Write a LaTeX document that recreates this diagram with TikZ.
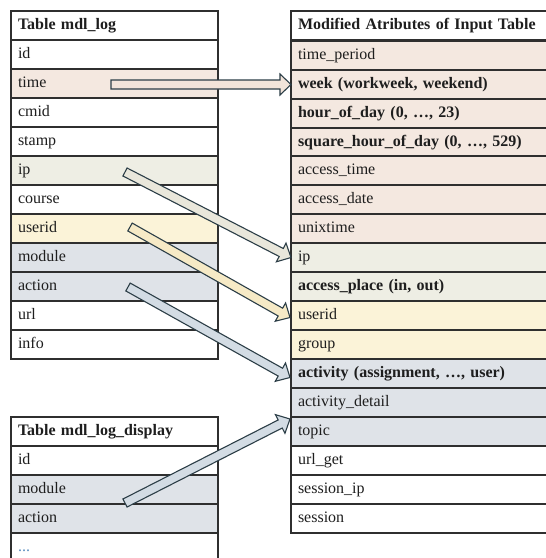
\documentclass[tikz,border=0pt]{standalone}
\usepackage{fontspec}
\setmainfont{Liberation Serif}
\usetikzlibrary{calc}

\definecolor{rowline}{HTML}{2F2F2F}
\definecolor{txt}{HTML}{1E1E1E}
\definecolor{peach}{HTML}{F4E8E0}
\definecolor{sage}{HTML}{EEEEE4}
\definecolor{cream}{HTML}{FBF3D8}
\definecolor{slate}{HTML}{DFE3E8}
\definecolor{arrowedge}{HTML}{2C3E47}
\definecolor{apeach}{HTML}{F2E4DA}
\definecolor{asage}{HTML}{E9E7DB}
\definecolor{acream}{HTML}{F6EAC6}
\definecolor{aslate}{HTML}{D3DCE4}
\definecolor{dots}{HTML}{5B8FC0}

% fat outlined arrow from #1 to #2, filled with #3
\newcommand\blockarrow[3]{%
  \coordinate (ba-h) at ($(#2)!11pt!(#1)$);
  \filldraw[arrowshape, fill=#3]
    ($(#1)!4.5pt!90:(#2)$) -- ($(ba-h)!4.5pt!-90:(#1)$)
    -- ($(ba-h)!10.5pt!-90:(#1)$) -- (#2)
    -- ($(ba-h)!10.5pt!90:(#1)$) -- ($(ba-h)!4.5pt!90:(#1)$)
    -- ($(#1)!4.5pt!-90:(#2)$) -- cycle;
}

\tikzset{
  cell/.style={draw=rowline, line width=1.1pt, rectangle, anchor=north west,
    outer sep=0pt, inner xsep=7pt, inner ysep=0pt, minimum height=29pt,
    text height=11pt, text depth=4pt, align=left, text=txt,
    font=\fontsize{16}{18}\selectfont},
  lcell/.style={cell, text width=193pt},
  rcell/.style={cell, text width=286pt},
  hdr/.style={font=\fontsize{16}{18}\selectfont\bfseries},
  arrowshape/.style={draw=arrowedge, line width=1.1pt, line join=miter},
}

\begin{document}
\begin{tikzpicture}[x=1pt, y=-1pt]
\useasboundingbox (0,0) rectangle (546,558);
\fill[white] (0,0) rectangle (546,558);
\clip (0,0) rectangle (546,558);

% Table mdl_log
\node[lcell, hdr, fill=white] (l-head)   at (11,11)  {Table mdl\_log};
\node[lcell, fill=white]      (l-id)     at (11,40)  {id};
\node[lcell, fill=peach]      (l-time)   at (11,69)  {time};
\node[lcell, fill=white]      (l-cmid)   at (11,98)  {cmid};
\node[lcell, fill=white]      (l-stamp)  at (11,127) {stamp};
\node[lcell, fill=sage]       (l-ip)     at (11,156) {ip};
\node[lcell, fill=white]      (l-course) at (11,185) {course};
\node[lcell, fill=cream]      (l-userid) at (11,214) {userid};
\node[lcell, fill=slate]      (l-module) at (11,243) {module};
\node[lcell, fill=slate]      (l-action) at (11,272) {action};
\node[lcell, fill=white]      (l-url)    at (11,301) {url};
\node[lcell, fill=white]      (l-info)   at (11,330) {info};

% Table mdl_log_display
\node[lcell, hdr, fill=white] (d-head)   at (11,417) {Table mdl\_log\_display};
\node[lcell, fill=white]      (d-id)     at (11,446) {id};
\node[lcell, fill=slate]      (d-module) at (11,475) {module};
\node[lcell, fill=slate]      (d-action) at (11,504) {action};
\node[lcell, fill=white, text=dots] (d-more) at (11,533) {...};

% Modified attributes of the input table
\node[rcell, hdr, fill=white] (r-head)    at (291,11)  {Modified Atributes of Input Table};
\node[rcell, fill=peach]      (r-period)  at (291,41)  {time\_period};
\node[rcell, hdr, fill=peach] (r-week)    at (291,70)  {week (workweek, weekend)};
\node[rcell, hdr, fill=peach] (r-hour)    at (291,99)  {hour\_of\_day (0, …, 23)};
\node[rcell, hdr, fill=peach] (r-square)  at (291,128) {square\_hour\_of\_day (0, …, 529)};
\node[rcell, fill=peach]      (r-atime)   at (291,156) {access\_time};
\node[rcell, fill=peach]      (r-adate)   at (291,185) {access\_date};
\node[rcell, fill=peach]      (r-unix)    at (291,214) {unixtime};
\node[rcell, fill=sage]       (r-ip)      at (291,243) {ip};
\node[rcell, hdr, fill=sage]  (r-place)   at (291,272) {access\_place (in, out)};
\node[rcell, fill=cream]      (r-userid)  at (291,301) {userid};
\node[rcell, fill=cream]      (r-group)   at (291,330) {group};
\node[rcell, hdr, fill=slate] (r-act)     at (291,359) {activity (assignment, …, user)};
\node[rcell, fill=slate]      (r-detail)  at (291,388) {activity\_detail};
\node[rcell, fill=slate]      (r-topic)   at (291,417) {topic};
\node[rcell, fill=white]      (r-url)     at (291,446) {url\_get};
\node[rcell, fill=white]      (r-sip)     at (291,475) {session\_ip};
\node[rcell, fill=white]      (r-session) at (291,504) {session};

% arrow ends
\coordinate (s-time)   at (111,84.5);
\coordinate (s-ip)     at (125,172);
\coordinate (s-userid) at (130,227);
\coordinate (s-action) at (128,287);
\coordinate (s-module) at (125,503);
\coordinate (t-userid) at ($(r-userid.west)+(-1,2)$);
\coordinate (t-act)    at ($(r-act.west)+(-1,4)$);
\coordinate (t-topic)  at ($(r-topic.north west)+(-1,2)$);

\blockarrow{s-time}{r-week.west}{apeach}
\blockarrow{s-ip}{r-ip.west}{asage}
\blockarrow{s-userid}{t-userid}{acream}
\blockarrow{s-action}{t-act}{aslate}
\blockarrow{s-module}{t-topic}{aslate}
\end{tikzpicture}
\end{document}
